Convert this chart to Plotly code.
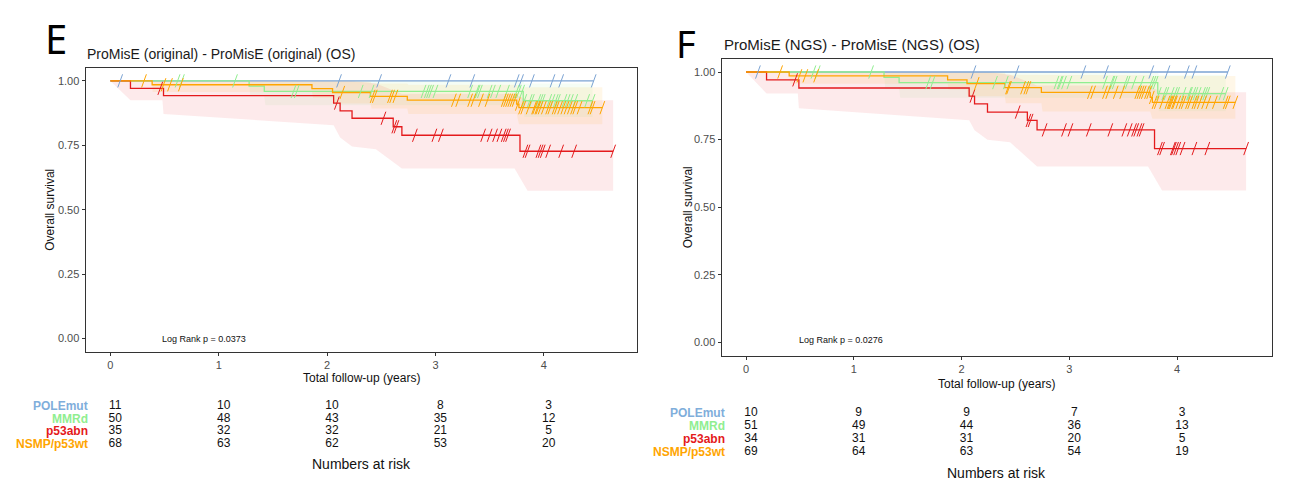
import numpy as np
import plotly.graph_objects as go

W, H = 1294, 496
groups = ["POLEmut", "MMRd", "p53abn", "NSMP/p53wt"]
line_colors = {"POLEmut": "#7BA3D3", "MMRd": "#90EE90", "p53abn": "#E41A1C", "NSMP/p53wt": "#FFA500"}
band_rgb = {"POLEmut": "123,163,211", "MMRd": "144,238,144", "p53abn": "228,26,28", "NSMP/p53wt": "255,165,0"}
label_colors = {"POLEmut": "#7FAEDB", "MMRd": "#90EE90", "p53abn": "#E41A1C", "NSMP/p53wt": "#FFA500"}
risk_times = [0, 1, 2, 3, 4]

# ---------------- Panel E : ProMisE (original) ----------------
E_pole_t = [0, 4.46]
E_pole_s = [1.0, 1.0]
E_pole_cens = [0.09, 2.11, 2.48, 3.12, 3.34, 3.75, 3.79, 3.89, 4.08, 4.16, 4.46]

E_mmr_t = [0, 1.28, 1.42, 3.81, 4.45]
E_mmr_s = [1.0, 0.980, 0.959, 0.923, 0.923]
E_mmr_cens = [0.62, 0.66, 1.15, 1.69, 1.72, 2.31, 2.41, 2.89, 2.92, 2.94, 2.96, 3.0, 3.32, 3.38,
              3.39, 3.41, 3.5, 3.53, 3.58, 3.66, 3.75, 3.77, 3.80, 3.82, 3.87, 3.89, 3.95, 3.97,
              3.99, 4.05, 4.08, 4.11, 4.13, 4.19, 4.22, 4.25, 4.29, 4.40, 4.45]

E_p53_t = [0, 0.185, 0.49, 2.06, 2.12, 2.23, 2.61, 2.69, 3.78, 4.64]
E_p53_s = [1.0, 0.971, 0.943, 0.914, 0.884, 0.855, 0.822, 0.789, 0.727, 0.727]
E_p53_cens = [0.46, 2.09, 2.52, 2.62, 2.64, 2.81, 2.99, 3.05, 3.44, 3.5, 3.55, 3.59, 3.63, 3.65,
              3.67, 3.83, 3.85, 3.95, 3.97, 3.99, 4.04, 4.16, 4.28, 4.64]

E_nsmp_t = [0, 0.385, 1.86, 2.05, 2.40, 2.74, 3.75, 3.77, 4.54]
E_nsmp_s = [1.0, 0.985, 0.970, 0.955, 0.940, 0.925, 0.910, 0.896, 0.896]
E_nsmp_cens = [0.31, 0.49, 0.55, 0.65, 2.14, 2.42, 2.44, 2.58, 2.60, 2.63, 3.17, 3.21, 3.32, 3.35,
               3.42, 3.48, 3.63, 3.65, 3.67, 3.69, 3.71, 3.73, 3.76, 3.79, 3.81, 3.86, 3.91, 3.92,
               3.94, 3.95, 3.97, 4.0, 4.04, 4.06, 4.1, 4.12, 4.15, 4.18, 4.21, 4.24, 4.27, 4.29,
               4.33, 4.43, 4.45, 4.54]

E_p53_band_t = [0, 0.185, 0.48, 0.49, 2.06, 2.12, 2.23, 2.45, 2.69, 3.73, 3.85, 4.64]
E_p53_band_lo = [1.0, 0.925, 0.925, 0.872, 0.828, 0.78, 0.745, 0.735, 0.66, 0.66, 0.574, 0.574]
E_p53_band_hi = [1.0, 1.0, 1.0, 1.0, 1.0, 1.0, 1.0, 0.99, 0.95, 0.95, 0.925, 0.925]

E_nsmp_band_t = [0, 0.385, 0.39, 1.86, 1.87, 2.05, 2.06, 2.40, 2.41, 2.74, 2.75, 3.75, 3.77, 4.54]
E_nsmp_band_lo = [1.0, 1.0, 0.957, 0.957, 0.935, 0.935, 0.912, 0.912, 0.893, 0.893, 0.872, 0.872, 0.832, 0.832]
E_nsmp_band_hi = [1.0, 1.0, 1.0, 1.0, 1.0, 1.0, 0.998, 0.998, 0.99, 0.99, 0.985, 0.985, 0.975, 0.975]

E_mmr_band_t = [0, 1.28, 1.29, 1.42, 1.43, 3.81, 3.82, 4.45]
E_mmr_band_lo = [1.0, 1.0, 0.94, 0.94, 0.905, 0.905, 0.86, 0.86]
E_mmr_band_hi = [1.0, 1.0, 1.0, 1.0, 1.0, 1.0, 0.99, 0.99]

E_risk_pole = [11, 10, 10, 8, 3]
E_risk_mmr = [50, 48, 43, 35, 12]
E_risk_p53 = [35, 32, 32, 21, 5]
E_risk_nsmp = [68, 63, 62, 53, 20]

# ---------------- Panel F : ProMisE (NGS) ----------------
F_pole_t = [0, 4.47]
F_pole_s = [1.0, 1.0]
F_pole_cens = [0.11, 2.11, 2.51, 3.13, 3.34, 3.76, 3.91, 4.09, 4.16, 4.47]

F_mmr_t = [0, 1.28, 1.42, 3.82, 4.45]
F_mmr_s = [1.0, 0.980, 0.961, 0.920, 0.920]
F_mmr_cens = [0.625, 0.665, 1.16, 1.69, 1.73, 2.31, 2.41, 2.88, 2.91, 2.92, 2.95, 3.0, 3.33, 3.39,
              3.40, 3.42, 3.52, 3.54, 3.60, 3.67, 3.76, 3.78, 3.80, 3.83, 3.88, 3.90, 3.95, 3.98,
              4.0, 4.06, 4.11, 4.12, 4.15, 4.17, 4.2, 4.24, 4.26, 4.28, 4.41, 4.45]

F_p53_t = [0, 0.19, 0.49, 2.07, 2.12, 2.24, 2.61, 2.70, 3.79, 4.64]
F_p53_s = [1.0, 0.971, 0.941, 0.911, 0.882, 0.852, 0.821, 0.786, 0.717, 0.717]
F_p53_cens = [0.455, 2.10, 2.52, 2.62, 2.64, 2.77, 2.95, 3.01, 3.18, 3.38, 3.51, 3.56, 3.60, 3.62,
              3.65, 3.67, 3.84, 3.86, 3.96, 3.97, 3.99, 4.01, 4.05, 4.16, 4.28, 4.64]

F_nsmp_t = [0, 0.40, 1.87, 2.05, 2.40, 2.74, 3.75, 3.77, 4.54]
F_nsmp_s = [1.0, 0.986, 0.971, 0.957, 0.942, 0.925, 0.906, 0.888, 0.888]
F_nsmp_cens = [0.316, 0.495, 0.55, 0.65, 2.14, 2.43, 2.44, 2.57, 2.60, 2.62, 3.19, 3.22, 3.33, 3.36,
               3.43, 3.49, 3.63, 3.65, 3.67, 3.69, 3.72, 3.74, 3.765, 3.79, 3.81, 3.86, 3.91, 3.93,
               3.94, 3.95, 3.97, 3.98, 4.01, 4.04, 4.06, 4.10, 4.12, 4.16, 4.18, 4.21, 4.25, 4.29,
               4.35, 4.45, 4.47, 4.54]

F_p53_band_t = [0, 0.19, 0.48, 0.49, 2.07, 2.12, 2.24, 2.45, 2.70, 3.73, 3.86, 4.64]
F_p53_band_lo = [1.0, 0.921, 0.921, 0.866, 0.822, 0.785, 0.75, 0.74, 0.651, 0.651, 0.562, 0.562]
F_p53_band_hi = [1.0, 1.0, 1.0, 1.0, 1.0, 1.0, 1.0, 0.99, 0.95, 0.95, 0.925, 0.925]

F_nsmp_band_t = [0, 0.40, 0.41, 1.87, 1.88, 2.05, 2.06, 2.40, 2.41, 2.74, 2.75, 3.75, 3.77, 4.54]
F_nsmp_band_lo = [1.0, 1.0, 0.957, 0.957, 0.935, 0.935, 0.91, 0.91, 0.885, 0.885, 0.854, 0.854, 0.827, 0.827]
F_nsmp_band_hi = [1.0, 1.0, 1.0, 1.0, 1.0, 1.0, 0.998, 0.998, 0.99, 0.99, 0.988, 0.988, 0.985, 0.985]

F_mmr_band_t = [0, 1.28, 1.29, 1.42, 1.43, 3.82, 3.83, 4.45]
F_mmr_band_lo = [1.0, 1.0, 0.94, 0.94, 0.905, 0.905, 0.855, 0.855]
F_mmr_band_hi = [1.0, 1.0, 1.0, 1.0, 1.0, 1.0, 0.99, 0.99]

F_risk_pole = [10, 9, 9, 7, 3]
F_risk_mmr = [51, 49, 44, 36, 13]
F_risk_p53 = [34, 31, 31, 20, 5]
F_risk_nsmp = [69, 64, 63, 54, 19]

panels = {
    "E": {
        "curves": {"POLEmut": (E_pole_t, E_pole_s, E_pole_cens), "MMRd": (E_mmr_t, E_mmr_s, E_mmr_cens),
                   "p53abn": (E_p53_t, E_p53_s, E_p53_cens), "NSMP/p53wt": (E_nsmp_t, E_nsmp_s, E_nsmp_cens)},
        "bands": {"MMRd": (E_mmr_band_t, E_mmr_band_lo, E_mmr_band_hi),
                  "p53abn": (E_p53_band_t, E_p53_band_lo, E_p53_band_hi),
                  "NSMP/p53wt": (E_nsmp_band_t, E_nsmp_band_lo, E_nsmp_band_hi)},
        "risk": [E_risk_pole, E_risk_mmr, E_risk_p53, E_risk_nsmp],
        "pval": "Log Rank p = 0.0373",
    },
    "F": {
        "curves": {"POLEmut": (F_pole_t, F_pole_s, F_pole_cens), "MMRd": (F_mmr_t, F_mmr_s, F_mmr_cens),
                   "p53abn": (F_p53_t, F_p53_s, F_p53_cens), "NSMP/p53wt": (F_nsmp_t, F_nsmp_s, F_nsmp_cens)},
        "bands": {"MMRd": (F_mmr_band_t, F_mmr_band_lo, F_mmr_band_hi),
                  "p53abn": (F_p53_band_t, F_p53_band_lo, F_p53_band_hi),
                  "NSMP/p53wt": (F_nsmp_band_t, F_nsmp_band_lo, F_nsmp_band_hi)},
        "risk": [F_risk_pole, F_risk_mmr, F_risk_p53, F_risk_nsmp],
        "pval": "Log Rank p = 0.0276",
    },
}

# layout geometry (pixels)
geo = {
    "E": dict(x0=85.5, x1=637, y0=68, y1=351.5, xr=[-0.23, 4.86], tb0=400, tb1=450, ax="x", ay="y", tx="x3", ty="y3",
              lab_x=90, title="ProMisE (original) - ProMisE (original) (OS)", title_x=85, title_y=54, title_fs=14,
              letter="E", letter_x=56, letter_y=38, letter_fs=40, ytitle_x=50, xtitle_y=378, nar_y=464, lr_x=0.46, lr_y=0.0),
    "F": dict(x0=721.5, x1=1272, y0=58.5, y1=356, xr=[-0.228, 4.88], tb0=406, tb1=459, ax="x2", ay="y2", tx="x4", ty="y4",
              lab_x=727, title="ProMisE (NGS) - ProMisE (NGS) (OS)", title_x=722, title_y=44, title_fs=15,
              letter="F", letter_x=686, letter_y=43, letter_fs=38, ytitle_x=688, xtitle_y=384, nar_y=473, lr_x=0.47, lr_y=0.01),
}

def px_x(p):
    return p / W

def px_y(p):
    return 1 - p / H

def step_at(ts, ss, t):
    idx = np.searchsorted(np.array(ts), t, side="right") - 1
    return np.array(ss)[np.clip(idx, 0, len(ss) - 1)]

fig = go.Figure()
annotations = []
layout_axes = {}
NARROW = "Liberation Sans Narrow, Arial Narrow, Liberation Sans, Arial, sans-serif"
SANS = "Liberation Sans, Arial, sans-serif"

for key, p in panels.items():
    g = geo[key]
    ax, ay = g["ax"], g["ay"]
    # bands
    for grp in groups:
        if grp in p["bands"]:
            bt, blo, bhi = p["bands"][grp]
            fig.add_trace(go.Scatter(x=list(bt) + list(bt)[::-1], y=list(bhi) + list(blo)[::-1],
                                     fill="toself", fillcolor=f"rgba({band_rgb[grp]},0.09)",
                                     line=dict(width=0), mode="lines", hoverinfo="skip",
                                     showlegend=False, xaxis=ax, yaxis=ay))
    # step lines
    for grp in groups:
        t, s, c = p["curves"][grp]
        fig.add_trace(go.Scatter(x=t, y=s, mode="lines", line=dict(color=line_colors[grp], width=1.3, shape="hv"),
                                 showlegend=False, xaxis=ax, yaxis=ay))
    # censor marks
    for grp in groups:
        t, s, c = p["curves"][grp]
        fig.add_trace(go.Scatter(x=c, y=step_at(t, s, c), mode="markers",
                                 marker=dict(symbol="line-ns", size=10, angle=20,
                                             line=dict(color=line_colors[grp], width=1)),
                                 showlegend=False, xaxis=ax, yaxis=ay))
    # risk table numbers
    for i, grp in enumerate(groups):
        fig.add_trace(go.Scatter(x=risk_times, y=[i] * len(risk_times), mode="text",
                                 text=[str(v) for v in p["risk"][i]],
                                 textfont=dict(family=NARROW, size=12, color="#111111"),
                                 showlegend=False, xaxis=g["tx"], yaxis=g["ty"], cliponaxis=False))
        annotations.append(dict(x=px_x(g["lab_x"]), y=i, xref="paper", yref=g["ty"], text=f"<b>{grp}</b>",
                                showarrow=False, xanchor="right", yanchor="middle",
                                font=dict(family=NARROW, size=12, color=label_colors[grp])))

    axis_common = dict(showgrid=False, zeroline=False, showline=True, mirror=True, linecolor="#333333",
                       linewidth=1, ticks="outside", ticklen=3, tickcolor="#333333",
                       tickfont=dict(family=SANS, size=11, color="#4d4d4d"))
    xnum = "" if ax == "x" else ax[1:]
    ynum = "" if ay == "y" else ay[1:]
    layout_axes["xaxis" + xnum] = dict(axis_common, domain=[px_x(g["x0"]), px_x(g["x1"])], range=g["xr"],
                                       tickvals=[0, 1, 2, 3, 4], anchor=ay)
    layout_axes["yaxis" + ynum] = dict(axis_common, domain=[px_y(g["y1"]), px_y(g["y0"])], range=[-0.05, 1.05],
                                       tickvals=[0, 0.25, 0.5, 0.75, 1.0],
                                       ticktext=["0.00", "0.25", "0.50", "0.75", "1.00"], anchor=ax)
    shift = 0.045
    layout_axes["xaxis" + g["tx"][1:]] = dict(visible=False, domain=[px_x(g["x0"]), px_x(g["x1"])],
                                               range=[g["xr"][0] - shift, g["xr"][1] - shift], anchor=g["ty"])
    layout_axes["yaxis" + g["ty"][1:]] = dict(visible=False, domain=[px_y(g["tb1"]), px_y(g["tb0"])],
                                               range=[3.5, -0.5], anchor=g["tx"])

    annotations += [
        dict(x=px_x(g["letter_x"]), y=px_y(g["letter_y"]), xref="paper", yref="paper", text=g["letter"],
             showarrow=False, xanchor="center", yanchor="middle",
             font=dict(family="Noto Sans, DejaVu Sans, sans-serif", size=g["letter_fs"], color="#000000")),
        dict(x=px_x(g["title_x"]), y=px_y(g["title_y"]), xref="paper", yref="paper", text=g["title"],
             showarrow=False, xanchor="left", yanchor="middle",
             font=dict(family=SANS, size=g["title_fs"], color="#1a1a1a")),
        dict(x=px_x(g["ytitle_x"]), y=px_y((g["y0"] + g["y1"]) / 2), xref="paper", yref="paper",
             text="Overall survival", textangle=-90, showarrow=False, xanchor="center", yanchor="middle",
             font=dict(family=SANS, size=12, color="#111111")),
        dict(x=px_x((g["x0"] + g["x1"]) / 2), y=px_y(g["xtitle_y"]), xref="paper", yref="paper",
             text="Total follow-up (years)", showarrow=False, xanchor="center", yanchor="middle",
             font=dict(family=SANS, size=12, color="#111111")),
        dict(x=px_x((g["x0"] + g["x1"]) / 2), y=px_y(g["nar_y"]), xref="paper", yref="paper",
             text="Numbers at risk", showarrow=False, xanchor="center", yanchor="middle",
             font=dict(family=NARROW, size=14, color="#111111")),
        dict(x=g["lr_x"], y=g["lr_y"], xref=ax, yref=ay, text=p["pval"], showarrow=False,
             xanchor="left", yanchor="middle", font=dict(family=NARROW, size=9, color="#111111")),
    ]

fig.update_layout(width=W, height=H, margin=dict(l=0, r=0, t=0, b=0, pad=0),
                  paper_bgcolor="white", plot_bgcolor="white", showlegend=False,
                  annotations=annotations, **layout_axes)
fig.write_html("out.html", config={"displayModeBar": False},
               post_script="document.body.style.margin='0px';")
